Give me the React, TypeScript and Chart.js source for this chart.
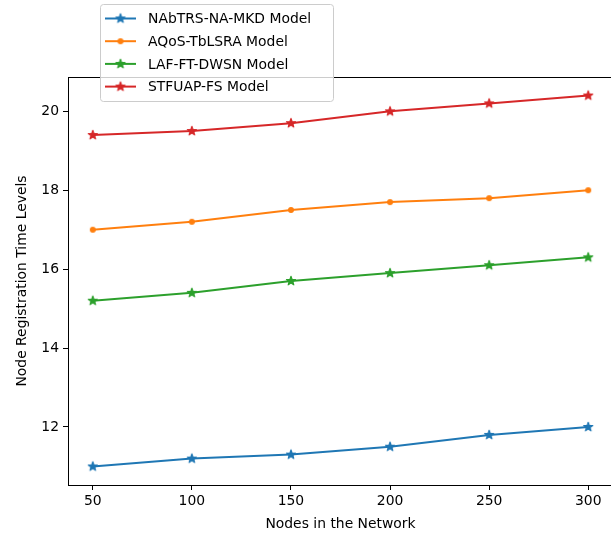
import React, { useEffect, useRef } from "react";
import { Chart, registerables } from "chart.js";

Chart.register(...registerables);

const nodes = [50, 100, 150, 200, 250, 300];
const nabtrs = [11.0, 11.2, 11.3, 11.5, 11.8, 12.0];
const aqos = [17.0, 17.2, 17.5, 17.7, 17.8, 18.0];
const laf = [15.2, 15.4, 15.7, 15.9, 16.1, 16.3];
const stfuap = [19.4, 19.5, 19.7, 20.0, 20.2, 20.4];
const seriesNames = [
  "NAbTRS-NA-MKD Model",
  "AQoS-TbLSRA Model",
  "LAF-FT-DWSN Model",
  "STFUAP-FS Model",
];
const seriesColors = ["#1f77b4", "#ff7f0e", "#2ca02c", "#d62728"];
const seriesMarkers = ["star", "dot", "star", "star"];
const yTicks = [12, 14, 16, 18, 20];
const xTicks = [50, 100, 150, 200, 250, 300];

const FONT = "'DejaVu Sans', sans-serif";
const FS = 13.9;

function makeStar(color: string, r = 4.8) {
  const size = Math.ceil(2 * r + 4);
  const c = document.createElement("canvas");
  c.width = size;
  c.height = size;
  const ctx = c.getContext("2d")!;
  const cx = size / 2;
  const cy = size / 2;
  const inner = r * 0.42;
  ctx.beginPath();
  for (let i = 0; i < 10; i++) {
    const a = -Math.PI / 2 + (i * Math.PI) / 5;
    const rad = i % 2 === 0 ? r : inner;
    const px = cx + rad * Math.cos(a);
    const py = cy + rad * Math.sin(a);
    if (i === 0) ctx.moveTo(px, py);
    else ctx.lineTo(px, py);
  }
  ctx.closePath();
  ctx.fillStyle = color;
  ctx.fill();
  ctx.strokeStyle = color;
  ctx.lineWidth = 1.1;
  ctx.lineJoin = "round";
  ctx.stroke();
  return c;
}

function makeDot(color: string, r = 3) {
  const size = Math.ceil(2 * r + 2);
  const c = document.createElement("canvas");
  c.width = size;
  c.height = size;
  const ctx = c.getContext("2d")!;
  ctx.beginPath();
  ctx.arc(size / 2, size / 2, r, 0, Math.PI * 2);
  ctx.fillStyle = color;
  ctx.fill();
  return c;
}

export default function App() {
  const ref = useRef<HTMLCanvasElement | null>(null);

  useEffect(() => {
    const canvas = ref.current;
    if (!canvas) return;
    const series = [nabtrs, aqos, laf, stfuap];
    const markerImgs = series.map((_, i) =>
      seriesMarkers[i] === "star" ? makeStar(seriesColors[i]) : makeDot(seriesColors[i])
    );

    const spines = {
      id: "spines",
      afterDraw(chart: any) {
        const { ctx, chartArea } = chart;
        ctx.save();
        // keep the area right of the last data column clean (the right spine lies off-page)
        ctx.fillStyle = "#ffffff";
        ctx.fillRect(
          chartArea.right - 8,
          chartArea.top + 1,
          chart.width - chartArea.right + 8,
          chartArea.bottom - chartArea.top - 1
        );
        ctx.strokeStyle = "#000";
        ctx.lineWidth = 1;
        const y = Math.round(chartArea.top) + 0.5;
        ctx.beginPath();
        ctx.moveTo(Math.round(chartArea.left), y);
        ctx.lineTo(chart.width, y);
        ctx.stroke();
        const yb = Math.round(chartArea.bottom) + 0.5;
        ctx.beginPath();
        ctx.moveTo(Math.round(chartArea.left), yb);
        ctx.lineTo(chart.width, yb);
        ctx.stroke();
        ctx.restore();
      },
    };

    const legend = {
      id: "customLegend",
      afterDraw(chart: any) {
        const ctx = chart.ctx as CanvasRenderingContext2D;
        ctx.save();
        const x0 = 100.5, y0 = 4.5, w = 233, h = 97, r = 3;
        ctx.beginPath();
        ctx.moveTo(x0 + r, y0);
        ctx.lineTo(x0 + w - r, y0);
        ctx.quadraticCurveTo(x0 + w, y0, x0 + w, y0 + r);
        ctx.lineTo(x0 + w, y0 + h - r);
        ctx.quadraticCurveTo(x0 + w, y0 + h, x0 + w - r, y0 + h);
        ctx.lineTo(x0 + r, y0 + h);
        ctx.quadraticCurveTo(x0, y0 + h, x0, y0 + h - r);
        ctx.lineTo(x0, y0 + r);
        ctx.quadraticCurveTo(x0, y0, x0 + r, y0);
        ctx.closePath();
        ctx.fillStyle = "rgba(255,255,255,0.8)";
        ctx.fill();
        ctx.strokeStyle = "#cccccc";
        ctx.lineWidth = 1;
        ctx.stroke();
        ctx.font = `${FS}px ${FONT}`;
        ctx.textBaseline = "middle";
        ctx.textAlign = "left";
        seriesNames.forEach((name, i) => {
          const y = 18.5 + i * 22.7;
          ctx.beginPath();
          ctx.moveTo(105, y);
          ctx.lineTo(136, y);
          ctx.strokeStyle = seriesColors[i];
          ctx.lineWidth = 2;
          ctx.stroke();
          const img = markerImgs[i];
          ctx.drawImage(img, 120.5 - img.width / 2, y - img.height / 2);
          ctx.fillStyle = "#000";
          ctx.fillText(name, 148, y + 1);
        });
        ctx.restore();
      },
    };

    const chart = new Chart(canvas, {
      type: "line",
      data: {
        datasets: series.map((vals, i) => ({
          label: seriesNames[i],
          data: nodes.map((x, j) => ({ x, y: vals[j] })),
          borderColor: seriesColors[i],
          backgroundColor: seriesColors[i],
          borderWidth: 2,
          pointStyle: markerImgs[i] as any,
          pointRadius: 5,
          fill: false,
          tension: 0,
        })),
      },
      options: {
        animation: false,
        responsive: false,
        maintainAspectRatio: false,
        events: [],
        layout: { padding: { top: 77, right: 7, left: 0, bottom: 0 } },
        plugins: {
          legend: { display: false },
          tooltip: { enabled: false },
        },
        scales: {
          x: {
            type: "linear",
            min: 37.5,
            max: 312.5,
            afterBuildTicks: (s: any) => {
              s.ticks = xTicks.map((v) => ({ value: v }));
            },
            afterFit: (s: any) => {
              s.height = 50;
              s.paddingLeft = 0;
              s.paddingRight = 0;
            },
            grid: {
              display: true,
              drawOnChartArea: false,
              drawTicks: true,
              tickLength: 5,
              tickColor: "#000",
              tickWidth: 1,
            },
            border: { display: true, color: "#000", width: 1 },
            ticks: {
              color: "#000",
              font: { family: FONT, size: FS },
              padding: 3,
              maxRotation: 0,
              autoSkip: false,
            },
            title: {
              display: true,
              text: "Nodes in the Network",
              color: "#000",
              font: { family: FONT, size: FS },
              padding: { top: 0, bottom: 2 },
            },
          },
          y: {
            type: "linear",
            min: 10.53,
            max: 20.87,
            afterBuildTicks: (s: any) => {
              s.ticks = yTicks.map((v) => ({ value: v }));
            },
            afterFit: (s: any) => {
              s.width = 68;
              s.paddingTop = 0;
              s.paddingBottom = 0;
            },
            grid: {
              display: true,
              drawOnChartArea: false,
              drawTicks: true,
              tickLength: 5,
              tickColor: "#000",
              tickWidth: 1,
            },
            border: { display: true, color: "#000", width: 1 },
            ticks: {
              color: "#000",
              font: { family: FONT, size: FS },
              padding: 4,
              autoSkip: false,
            },
            title: {
              display: true,
              text: "Node Registration Time Levels",
              color: "#000",
              font: { family: FONT, size: FS },
              padding: { top: 14, bottom: 0 },
            },
          },
        },
      },
      plugins: [spines, legend],
    });

    return () => {
      chart.destroy();
    };
  }, []);

  return (
    <div
      style={{
        position: "fixed",
        left: 0,
        top: 0,
        width: 611,
        height: 535,
        overflow: "hidden",
        background: "#fff",
      }}
    >
      <canvas
        ref={ref}
        width={620}
        height={535}
        style={{ display: "block", width: 620, height: 535 }}
      />
    </div>
  );
}
